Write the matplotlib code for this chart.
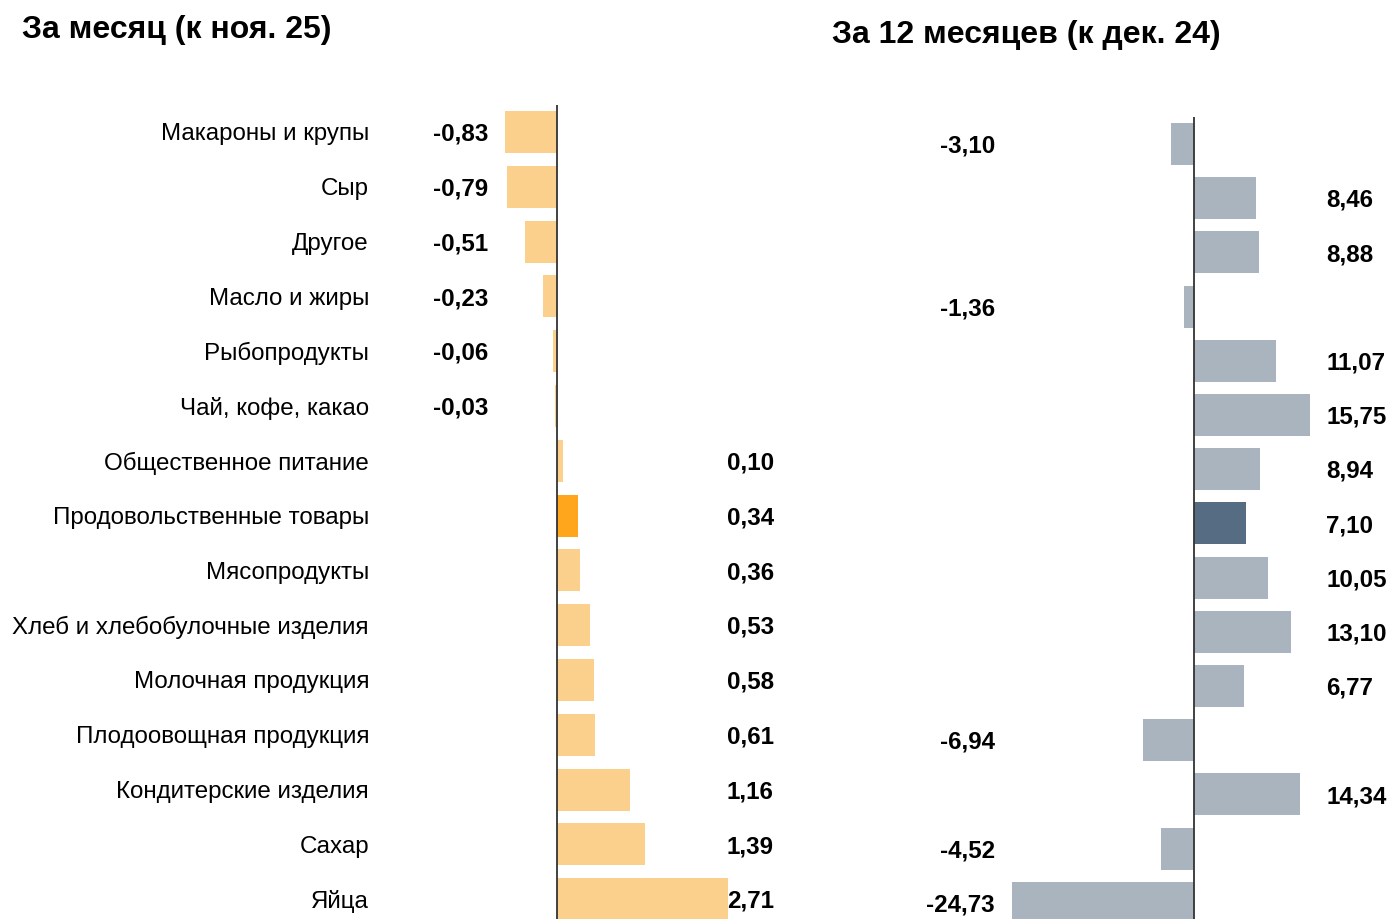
import matplotlib
matplotlib.use("Agg")
import matplotlib.pyplot as plt
import matplotlib.transforms as mtransforms

plt.rcParams['font.family'] = ['Liberation Sans', 'DejaVu Sans']

# Data
categories = ['Макароны и крупы', 'Сыр', 'Другое', 'Масло и жиры', 'Рыбопродукты',
              'Чай, кофе, какао', 'Общественное питание', 'Продовольственные товары',
              'Мясопродукты', 'Хлеб и хлебобулочные изделия', 'Молочная продукция',
              'Плодоовощная продукция', 'Кондитерские изделия', 'Сахар', 'Яйца']
month_vals = [-0.83, -0.79, -0.51, -0.23, -0.06, -0.03, 0.10, 0.34, 0.36, 0.53,
              0.58, 0.61, 1.16, 1.39, 2.71]
year_vals = [-3.10, 8.46, 8.88, -1.36, 11.07, 15.75, 8.94, 7.10, 10.05, 13.10,
             6.77, -6.94, 14.34, -4.52, -24.73]
highlight = 'Продовольственные товары'

W, H = 1389, 919
fig = plt.figure(figsize=(W / 100, H / 100), dpi=100)


def px_axes(x0, x1, y0, y1):
    # pixel box (top-left origin) -> figure fraction axes
    return fig.add_axes([x0 / W, 1 - y1 / H, (x1 - x0) / W, (y1 - y0) / H])


def fmt(v):
    return f'{v:.2f}'.replace('.', ',')


# left panel: zero at 557px, 63 px per unit, rows start at 132px, step 54.8px
axl = px_axes(400, 800, 105, 919)
axl.set_xlim((400 - 557) / 63, (800 - 557) / 63)
axl.set_ylim((919 - 132) / 54.8, (105 - 132) / 54.8)
cols_l = ['#FFA61C' if c == highlight else '#FAD08C' for c in categories]
axl.barh(range(len(categories)), month_vals, height=0.77, color=cols_l)
axl.axvline(0, color='#333333', lw=1.3)

# right panel: zero at 1194px, 7.37 px per unit, rows start at 144px, step 54.2px
axr = px_axes(1000, 1389, 117, 919)
axr.set_xlim((1000 - 1194) / 7.37, (1389 - 1194) / 7.37)
axr.set_ylim((919 - 144) / 54.2, (117 - 144) / 54.2)
cols_r = ['#566C82' if c == highlight else '#A9B4BE' for c in categories]
axr.barh(range(len(categories)), year_vals, height=0.775, color=cols_r)
axr.axvline(0, color='#333333', lw=1.3)

for ax in (axl, axr):
    ax.axis('off')


# text placed by figure-pixel x and data y
def xpx_transform(ax):
    return mtransforms.blended_transform_factory(
        mtransforms.Affine2D().scale(1 / W, 1) + fig.transFigure, ax.transData)


tl = xpx_transform(axl)
tr = xpx_transform(axr)
dy = 0.04
fs = 17.4
for i, (c, m, y) in enumerate(zip(categories, month_vals, year_vals)):
    axl.text(369, i + dy, c, transform=tl, ha='right', va='center', fontsize=fs, clip_on=False)
    if m < 0:
        axl.text(488, i + dy, fmt(m), transform=tl, ha='right', va='center',
                 fontsize=fs, fontweight='bold', clip_on=False)
    else:
        axl.text(727, i + dy, fmt(m), transform=tl, ha='left', va='center',
                 fontsize=fs, fontweight='bold', clip_on=False)
    if y < 0:
        axr.text(995, i + dy, fmt(y), transform=tr, ha='right', va='center',
                 fontsize=fs, fontweight='bold', clip_on=False)
    else:
        axr.text(1326, i + dy, fmt(y), transform=tr, ha='left', va='center',
                 fontsize=fs, fontweight='bold', clip_on=False)

fig.text(22 / W, 1 - 30 / H, 'За месяц (к ноя. 25)', ha='left', va='center',
         fontsize=23, fontweight='bold')
fig.text(832 / W, 1 - 35 / H, 'За 12 месяцев (к дек. 24)', ha='left', va='center',
         fontsize=23, fontweight='bold')

fig.savefig('out.png', dpi=100)
